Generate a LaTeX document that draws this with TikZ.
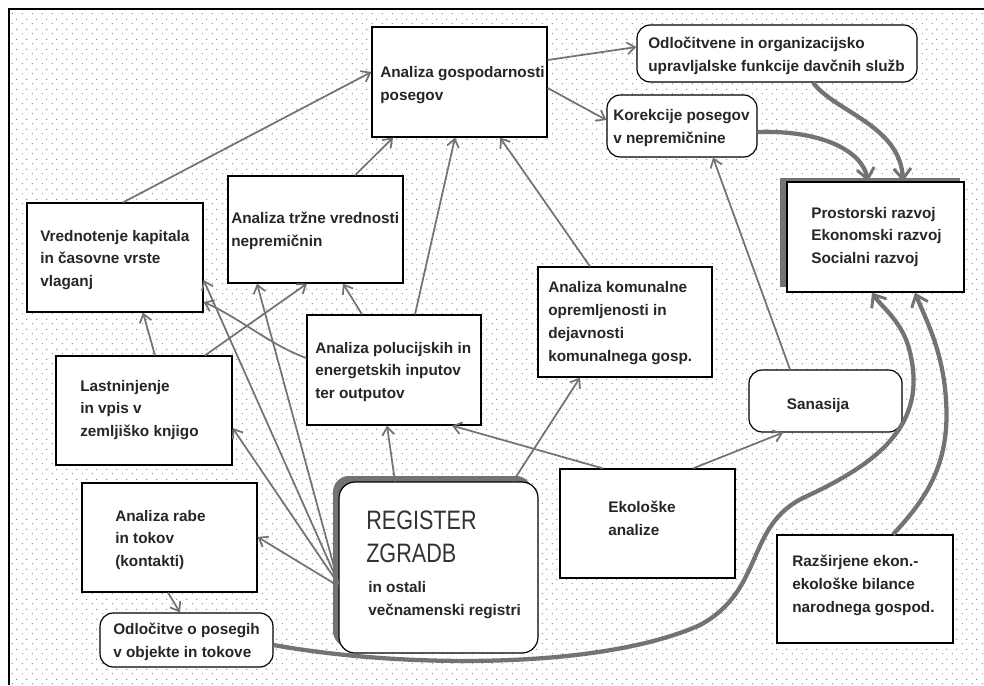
\documentclass[tikz,border=0pt]{standalone}
\usepackage{fontspec}
\usepackage{graphicx}
\setmainfont{Liberation Sans}
\usetikzlibrary{arrows.meta,fit,patterns.meta}
\tikzdeclarepattern{name=bgdots,type=colored,bounding box={(0pt,0pt) and (7.5pt,7.5pt)},tile size={(7.5pt,7.5pt)},code={\fill[black!55] (1.9pt,1.9pt) circle (0.5pt); \fill[black!55] (5.6pt,5.6pt) circle (0.5pt);}}
\tikzset{
 box/.style={draw=black, fill=white, line width=0.9pt, inner sep=0pt},
 rbox/.style={box, rounded corners=10pt},
 txt/.style={font=\fontsize{11.5}{17.2}\selectfont\bfseries, align=left, inner sep=0pt, anchor=west, text=black!85},
 bigtxt/.style={inner sep=0pt, anchor=west, text=black!80},
 arr/.style={draw=black!55, line width=1.3pt, -{Straight Barb[length=6pt,width=9pt]}},
 tarr/.style={draw=black!55, line width=3.2pt, -{Straight Barb[length=8pt,width=13pt,line width=2.2pt]}},
 shadow/.style={fill=black!55},
}
\begin{document}
\begin{tikzpicture}[x=0.75pt,y=-0.75pt]
\useasboundingbox (0,0) rectangle (984,685);
\fill[white] (0,0) rectangle (984,685);
\fill[pattern=bgdots] (9,9) rectangle (984,685);
\draw[line width=1pt] (9,685) -- (9,9) -- (984,9);

% boxes
\node[box, fit={(372,27) (547,137)}] (A) {};
\node[rbox, fit={(637,25) (917,82)}] (B) {};
\node[rbox, fit={(607,95) (757,157)}] (C) {};
\fill[shadow] (780,178) rectangle (960,287);
\node[box, fit={(787,182) (964,292)}] (D) {};
\node[box, fit={(27,203) (203,312)}] (E) {};
\node[box, fit={(228,176) (403,283)}] (F) {};
\node[box, fit={(56,356) (232,465)}] (G) {};
\node[box, fit={(307,315) (481,425)}] (H) {};
\node[box, fit={(538,267) (712,377)}] (I) {};
\node[rbox, fit={(749,370) (902,432)}] (J) {};
\node[box, fit={(82,483) (257,592)}] (K) {};
\node[box, fit={(560,469) (735,578)}] (L) {};
\node[box, fit={(777,535) (953,643)}] (M) {};
\node[rbox, fit={(100,613) (273,667)}] (N) {};

% thin connectors
\draw[arr] (123,0 |- E.north) -- (A.west |- 0,72);
\draw[arr] (355,0 |- F.north) -- (393,0 |- A.south);
\draw[arr] (415,0 |- H.north) -- (455,0 |- A.south);
\draw[arr] (590,0 |- I.north) -- (500,0 |- A.south);
\draw[arr] (A.east |- 0,60) -- (B.west |- 0,47);
\draw[arr] (A.east |- 0,88) -- (C.west |- 0,120);
\draw[arr] (790,0 |- J.north) -- (713,0 |- C.south);
\draw[arr] (693,0 |- L.north) -- (783,0 |- J.south);
\draw[arr] (603,0 |- L.north) -- (452,0 |- H.south);
\draw[arr] (H.west |- 0,358) .. controls (270,345) and (240,318) .. (E.east |- 0,302);
\draw[arr] (205,0 |- G.north) -- (307,0 |- F.south);
\draw[arr] (362,0 |- H.north) -- (343,0 |- F.south);
\draw[arr] (155,0 |- G.north) -- (143,0 |- E.south);
\draw[arr] (168,0 |- K.south) -- (180,0 |- N.north);

% register
\fill[shadow, rounded corners=12pt] (333,476) rectangle (532,647);
\node[box, rounded corners=12pt, fit={(339,482) (538,653)}] (R) {};
\draw[arr] (395,0 |- R.north) -- (387,0 |- H.south);
\draw[arr] (513,0 |- R.north) -- (580,0 |- I.south);
\draw[arr] (R.west |- 0,586) -- (K.east |- 0,537);
\draw[arr] (R.west |- 0,584) -- (G.east |- 0,428);
\draw[arr] (R.west |- 0,583) -- (E.east |- 0,280);
\draw[arr] (R.west |- 0,583) -- (257,0 |- F.south);

% thick connectors
\draw[tarr] (C.east |- 0,132) .. controls (820,130) and (862,150) .. (868,0 |- D.north);
\draw[tarr] (813,0 |- B.south) .. controls (835,112) and (900,125) .. (903,0 |- D.north);
\draw[tarr] (N.east |- 0,645) .. controls (400,668) and (600,670) .. (700,625)
  .. controls (765,590) and (745,525) .. (805,497)
  .. controls (885,460) and (930,420) .. (908,345)
  .. controls (900,320) and (880,305) .. (872,0 |- D.south);
\draw[tarr] (893,0 |- M.north) .. controls (930,495) and (950,460) .. (946,400)
  .. controls (943,350) and (925,318) .. (915,0 |- D.south);

% texts
\node[txt] (At) at (380,85) {Analiza gospodarnosti\\posegov};
\node[txt] (Bt) at (648,56) {Odločitvene in organizacijsko\\upravljalske funkcije davčnih služb};
\node[txt] (Ct) at (613,128) {Korekcije posegov\\v nepremičnine};
\node[txt] (Dt) at (811,237) {Prostorski razvoj\\Ekonomski razvoj\\Socialni razvoj};
\node[txt] (Et) at (40,260) {Vrednotenje kapitala\\in časovne vrste\\vlaganj};
\node[txt] (Ft) at (231,231) {Analiza tržne vrednosti\\nepremičnin};
\node[txt] (Gt) at (80,410) {Lastninjenje\\in vpis v\\zemljiško knjigo};
\node[txt] (Ht) at (315,372) {Analiza polucijskih in\\energetskih inputov\\ter outputov};
\node[txt] (It) at (548,323) {Analiza komunalne\\opremljenosti in\\dejavnosti\\komunalnega gosp.};
\node[txt, anchor=center] (Jt) at (818,406) {Sanasija};
\node[txt] (Kt) at (115,540) {Analiza rabe\\in tokov\\(kontakti)};
\node[txt] (Lt) at (608,518) {Ekološke\\analize};
\node[txt] (Mt) at (792,585) {Razširjene ekon.-\\ekološke bilance\\narodnega gospod.};
\node[txt] (Nt) at (113,642) {Odločitve o posegih\\v objekte in tokove};
\node[bigtxt] (Rt1) at (366,520) {\scalebox{0.81}[1]{\fontsize{20}{24}\selectfont REGISTER}};
\node[bigtxt] (Rt2) at (366,553) {\scalebox{0.81}[1]{\fontsize{20}{24}\selectfont ZGRADB}};
\node[txt] (Rt3) at (368,600) {in ostali\\večnamenski registri};
\end{tikzpicture}
\end{document}
